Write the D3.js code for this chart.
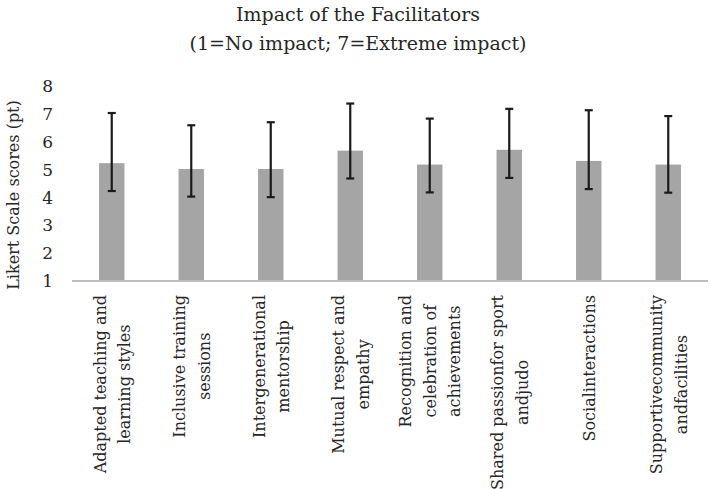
<!DOCTYPE html>
<html>
<head>
<meta charset="utf-8">
<script src="https://cdn.jsdelivr.net/npm/d3@7"></script>
<style>
  body { margin: 0; background: #fff; }
  text { font-family: "DejaVu Serif", "Liberation Serif", serif; fill: #262626; }
</style>
</head>
<body>
<svg></svg>
<script>
const categories = [
    ['Adapted teaching and', 'learning styles'],
    ['Inclusive training', 'sessions'],
    ['Intergenerational', 'mentorship'],
    ['Mutual respect and', 'empathy'],
    ['Recognition and', 'celebration of', 'achievements'],
    ['Shared passionfor sport', 'andjudo'],
    ['Socialinteractions'],
    ['Supportivecommunity', 'andfacilities']
];
const means = [5.23, 5.02, 5.02, 5.68, 5.18, 5.71, 5.31, 5.18];
const errUpper = [7.03, 6.59, 6.70, 7.37, 6.83, 7.18, 7.13, 6.92];
const errLower = [4.23, 4.03, 4.01, 4.68, 4.18, 4.70, 4.30, 4.17];
const yTicks = [1, 2, 3, 4, 5, 6, 7, 8];

const width = 710;
const height = 489;
const margin = { left: 72, top: 86, right: 2, bottom: 208 };

const svg = d3.select('svg')
    .attr('width', width)
    .attr('height', height);

const x = d3.scaleBand()
    .domain(d3.range(categories.length))
    .range([margin.left, width - margin.right])
    .paddingInner(0.68)
    .paddingOuter(0.34);

const y = d3.scaleLinear()
    .domain([1, 8])
    .range([height - margin.bottom, margin.top]);

// title
const title = svg.append('text')
    .attr('text-anchor', 'middle')
    .attr('font-size', 19);
title.append('tspan').attr('x', 358).attr('y', 21).text('Impact of the Facilitators');
title.append('tspan').attr('x', 358).attr('y', 50).text('(1=No impact; 7=Extreme impact)');

// y tick labels
svg.append('g').selectAll('text').data(yTicks)
    .enter().append('text')
    .attr('x', 53)
    .attr('y', d => y(d))
    .attr('dy', '.36em')
    .attr('text-anchor', 'end')
    .attr('font-size', 17)
    .text(d => d);

// y axis title
svg.append('text')
    .attr('transform', 'translate(19, 195) rotate(-90)')
    .attr('text-anchor', 'middle')
    .attr('font-size', 16)
    .text('Likert Scale scores (pt)');

// bars
svg.append('g').selectAll('rect').data(means)
    .enter().append('rect')
    .attr('x', (d, i) => x(i))
    .attr('y', d => y(d))
    .attr('width', x.bandwidth())
    .attr('height', d => y(1) - y(d))
    .attr('fill', '#a5a5a5');

// x axis line
svg.append('line')
    .attr('x1', margin.left)
    .attr('x2', width - margin.right)
    .attr('y1', y(1))
    .attr('y2', y(1))
    .attr('stroke', '#bfbfbf')
    .attr('stroke-width', 2);

// error bars
const err = svg.append('g')
    .attr('stroke', '#1a1a1a')
    .attr('stroke-width', 2.2);
means.forEach((m, i) => {
    const cx = x(i) + x.bandwidth() / 2;
    err.append('line').attr('x1', cx).attr('x2', cx)
        .attr('y1', y(errLower[i])).attr('y2', y(errUpper[i]));
    [errLower[i], errUpper[i]].forEach(v => {
        err.append('line').attr('x1', cx - 4).attr('x2', cx + 4)
            .attr('y1', y(v)).attr('y2', y(v));
    });
});

// category labels, rotated, centred lines
const lineH = 24.5;
svg.append('g').selectAll('text').data(categories)
    .enter().append('text')
    .attr('text-anchor', 'middle')
    .attr('font-size', 16)
    .each(function (lines, i) {
        const t = d3.select(this);
        lines.forEach((s, k) => {
            t.append('tspan').attr('x', 0).attr('y', k * lineH).text(s);
        });
        const w = d3.max(t.selectAll('tspan').nodes(), n => n.getComputedTextLength());
        const cx = x(i) + x.bandwidth() / 2;
        const first = cx - (lines.length - 1) * lineH / 2 + 6;
        t.attr('transform', `translate(${first}, ${y(1) + 14 + w / 2}) rotate(-90)`);
    });
</script>
</body>
</html>
